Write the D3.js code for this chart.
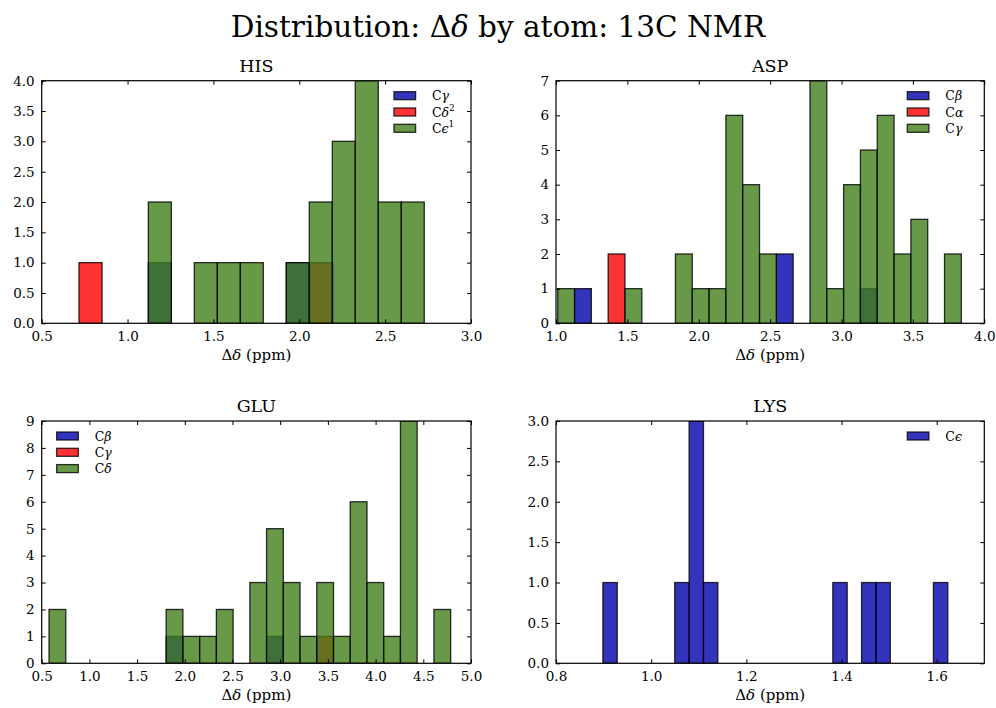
<!DOCTYPE html>
<html lang="en">
<head>
<meta charset="UTF-8" />
<title>Distribution by atom: 13C NMR</title>
<script src="https://cdnjs.cloudflare.com/ajax/libs/d3/7.6.1/d3.min.js"></script>
<style>
  body { margin: 0; background: #fff; }
  svg text { font-family: "DejaVu Serif", serif; fill: #000; }
</style>
</head>
<body>
<div id="chart"></div>
<script>
// histogram bins: first edge, bin width, counts per bin
const hisBins = { start: 1.121, width: 0.1339 };
const hisRedBins = { start: 0.717, width: 0.1345 };
const hisCgamma = [1, 0, 0, 0, 0, 0, 1];
const hisCdelta2 = [1, 0, 0, 0, 0, 0, 0, 0, 0, 0, 1];
const hisCeps1 = [2, 0, 1, 1, 1, 0, 1, 2, 3, 4, 2, 2];

const aspBins = { start: 1.012, width: 0.1178 };
const aspCbeta = [0, 1, 0, 0, 0, 0, 0, 0, 0, 0, 0, 0, 0, 2, 0, 0, 0, 0, 1];
const aspCalpha = [0, 0, 0, 2];
const aspCgamma = [1, 0, 0, 0, 1, 0, 0, 2, 1, 1, 6, 4, 2, 0, 0, 7, 1, 4, 5, 6, 2, 3, 0, 2];

const gluBins = { start: 0.577, width: 0.1754 };
const gluCbeta = [0, 0, 0, 0, 0, 0, 0, 1, 0, 0, 0, 0, 0, 1];
const gluCgamma = [0, 0, 0, 0, 0, 0, 0, 0, 0, 0, 0, 0, 0, 0, 0, 0, 1];
const gluCdelta = [2, 0, 0, 0, 0, 0, 0, 2, 1, 1, 2, 0, 3, 5, 3, 1, 3, 1, 6, 3, 1, 9, 0, 2];

const lysBins = { start: 0.8985, width: 0.0302 };
const lysCeps = [1, 0, 0, 0, 0, 1, 3, 1, 0, 0, 0, 0, 0, 0, 0, 0, 1, 0, 1, 1, 0, 0, 0, 1];

const hisXTicks = [0.5, 1.0, 1.5, 2.0, 2.5, 3.0];
const hisYTicks = [0, 0.5, 1, 1.5, 2, 2.5, 3, 3.5, 4];
const aspXTicks = [1.0, 1.5, 2.0, 2.5, 3.0, 3.5, 4.0];
const aspYTicks = [0, 1, 2, 3, 4, 5, 6, 7];
const gluXTicks = [0.5, 1.0, 1.5, 2.0, 2.5, 3.0, 3.5, 4.0, 4.5, 5.0];
const gluYTicks = [0, 1, 2, 3, 4, 5, 6, 7, 8, 9];
const lysXTicks = [0.8, 1.0, 1.2, 1.4, 1.6];
const lysYTicks = [0, 0.5, 1, 1.5, 2, 2.5, 3];

const BLUE = "rgb(0,0,170)", RED = "rgb(255,0,0)", GREEN = "rgb(65,127,26)";
const FONT = "DejaVu Serif";

const panels = [
  { name: "HIS", box: [41.7, 80.7, 471, 323.3], x: [0.5, 3.0], y: [0, 4], xt: hisXTicks, yt: hisYTicks, yfmt: ".1f",
    legend: "right",
    series: [
      { label: ["C", "γ", ""], color: BLUE, bins: hisBins, counts: hisCgamma },
      { label: ["C", "δ", "2"], color: RED, bins: hisRedBins, counts: hisCdelta2 },
      { label: ["C", "ϵ", "1"], color: GREEN, bins: hisBins, counts: hisCeps1 }] },
  { name: "ASP", box: [556, 80.7, 984.3, 323.3], x: [1.0, 4.0], y: [0, 7], xt: aspXTicks, yt: aspYTicks, yfmt: "d",
    legend: "right",
    series: [
      { label: ["C", "β", ""], color: BLUE, bins: aspBins, counts: aspCbeta },
      { label: ["C", "α", ""], color: RED, bins: aspBins, counts: aspCalpha },
      { label: ["C", "γ", ""], color: GREEN, bins: aspBins, counts: aspCgamma }] },
  { name: "GLU", box: [41.7, 421, 471, 663.3], x: [0.5, 5.0], y: [0, 9], xt: gluXTicks, yt: gluYTicks, yfmt: "d",
    legend: "left",
    series: [
      { label: ["C", "β", ""], color: BLUE, bins: gluBins, counts: gluCbeta },
      { label: ["C", "γ", ""], color: RED, bins: gluBins, counts: gluCgamma },
      { label: ["C", "δ", ""], color: GREEN, bins: gluBins, counts: gluCdelta }] },
  { name: "LYS", box: [556, 421, 984.3, 663.3], x: [0.8, 1.7], y: [0, 3], xt: lysXTicks, yt: lysYTicks, yfmt: ".1f",
    legend: "right",
    series: [
      { label: ["C", "ϵ", ""], color: BLUE, bins: lysBins, counts: lysCeps }] }
];

const width = 996, height = 708;
const svg = d3.select("#chart").append("svg")
  .attr("width", width).attr("height", height);

// figure title
const title = svg.append("text")
  .attr("x", 498).attr("y", 36.5)
  .attr("text-anchor", "middle")
  .style("font-size", "29.5px");
title.append("tspan").text("Distribution: Δ");
title.append("tspan").style("font-style", "italic").text("δ");
title.append("tspan").text(" by atom: 13C NMR");

panels.forEach(p => {
  const [x0, y0, x1, y1] = p.box;
  const x = d3.scaleLinear().domain(p.x).range([x0, x1]);
  const y = d3.scaleLinear().domain(p.y).range([y1, y0]);
  const g = svg.append("g");

  g.append("clipPath").attr("id", "clip-" + p.name)
    .append("rect").attr("x", x0).attr("y", y0).attr("width", x1 - x0).attr("height", y1 - y0);

  const bars = g.append("g").attr("clip-path", `url(#clip-${p.name})`);
  p.series.forEach(s => {
    const rows = s.counts.map((n, i) => ({ a: s.bins.start + i * s.bins.width, b: s.bins.start + (i + 1) * s.bins.width, n }))
      .filter(d => d.n > 0);
    bars.selectAll(null).data(rows).join("rect")
      .attr("x", d => x(d.a))
      .attr("y", d => y(d.n))
      .attr("width", d => x(d.b) - x(d.a))
      .attr("height", d => y(0) - y(d.n))
      .attr("fill", s.color).attr("fill-opacity", 0.8)
      .attr("stroke", "#000").attr("stroke-opacity", 0.8).attr("stroke-width", 1.3);
  });

  // axes, matplotlib classic style: ticks inside on all four sides
  const tl = 4;
  const xb = d3.axisBottom(x).tickValues(p.xt).tickFormat(d3.format(".1f")).tickSizeInner(-tl).tickSizeOuter(0).tickPadding(8);
  const xtop = d3.axisTop(x).tickValues(p.xt).tickFormat("").tickSizeInner(-tl).tickSizeOuter(0);
  const yl = d3.axisLeft(y).tickValues(p.yt).tickFormat(d3.format(p.yfmt)).tickSizeInner(-tl).tickSizeOuter(0).tickPadding(7);
  const yr = d3.axisRight(y).tickValues(p.yt).tickFormat("").tickSizeInner(-tl).tickSizeOuter(0);

  const ax = [
    g.append("g").attr("transform", `translate(0,${y1})`).call(xb),
    g.append("g").attr("transform", `translate(0,${y0})`).call(xtop),
    g.append("g").attr("transform", `translate(${x0},0)`).call(yl),
    g.append("g").attr("transform", `translate(${x1},0)`).call(yr)
  ];
  ax.forEach(a => {
    a.attr("font-family", FONT);
    a.select(".domain").remove();
    a.selectAll("line").attr("stroke", "#000").attr("stroke-width", 1);
    a.selectAll("text").style("font-size", "13.5px").attr("fill", "#000");
  });

  g.append("rect").attr("x", x0).attr("y", y0).attr("width", x1 - x0).attr("height", y1 - y0)
    .attr("fill", "none").attr("stroke", "#000").attr("stroke-width", 1.2);

  g.append("text").attr("x", (x0 + x1) / 2).attr("y", y0 - 9)
    .attr("text-anchor", "middle").style("font-size", "17.5px").text(p.name);

  const xl = g.append("text").attr("x", (x0 + x1) / 2).attr("y", y1 + 37)
    .attr("text-anchor", "middle").style("font-size", "15px");
  xl.append("tspan").text("Δ");
  xl.append("tspan").style("font-style", "italic").text("δ");
  xl.append("tspan").text(" (ppm)");

  // legend without frame
  const lx = p.legend === "right" ? x1 - 77 : x0 + 15;
  const leg = g.append("g").attr("transform", `translate(${lx},${y0 + 15})`);
  p.series.forEach((s, i) => {
    const row = leg.append("g").attr("transform", `translate(0,${i * 16.3})`);
    row.append("rect").attr("x", 0).attr("y", -4).attr("width", 21.6).attr("height", 8)
      .attr("fill", s.color).attr("fill-opacity", 0.8)
      .attr("stroke", "#000").attr("stroke-opacity", 0.8).attr("stroke-width", 1.3);
    const t = row.append("text").attr("x", 38).attr("y", 4.5).style("font-size", "12.5px");
    t.append("tspan").text(s.label[0]);
    t.append("tspan").style("font-style", "italic").text(s.label[1]);
    if (s.label[2]) t.append("tspan").attr("dy", -6).style("font-size", "9px").text(s.label[2]);
  });
});
</script>
</body>
</html>
